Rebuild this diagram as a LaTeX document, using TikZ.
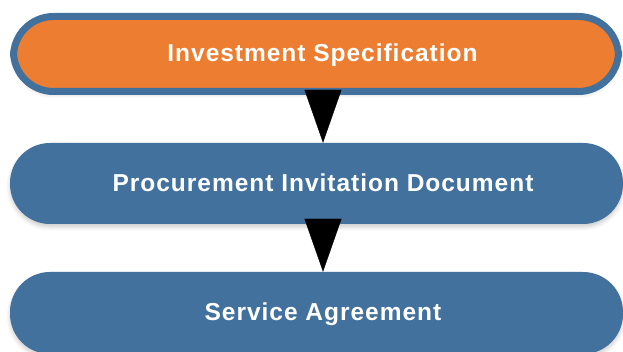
\documentclass[tikz,border=0pt]{standalone}
\usepackage{fontspec}
\setmainfont{Liberation Sans}
\newfontfamily\stagefont[LetterSpace=4]{Liberation Sans}
\usepackage{tikz}
\usetikzlibrary{arrows.meta}
\usetikzlibrary{shadows.blur}
\definecolor{boxblue}{HTML}{41719C}
\definecolor{boxorange}{HTML}{ED7D31}

\begin{document}
\begin{tikzpicture}[
        x=1pt, y=-1pt,
        stage/.style={rectangle, rounded corners=40pt, fill=boxblue, text=white,
            font=\stagefont\fontsize{24.5}{30}\selectfont\bfseries,
            text height=17.5pt, text depth=2pt,
            execute at begin node={\hspace*{13pt}},
            minimum width=613pt, minimum height=81pt,
            blur shadow={shadow xshift=0pt, shadow yshift=-3pt, shadow blur radius=4pt, shadow opacity=20}},
        current/.style={stage, fill=boxorange, draw=boxblue, line width=7pt,
            minimum width=605pt, minimum height=75pt},
        flow/.style={-{Triangle[width=37pt,length=53pt]}, line width=0.4pt, black}
    ]
    \useasboundingbox (0,0) rectangle (623,352);
    
    % Investment Specification
    \node[current] at (316,54) (spec) {Investment Specification};
    
    % Procurement Invitation Document
    \node[stage] at (316.5,183.5) (invite) {Procurement Invitation Document};
    
    % Service Agreement
    \node[stage, minimum height=82pt] at (316.5,313) (agree) {Service Agreement};
    
    % Arrows
    \draw[flow] ([xshift=7pt]spec.south) -- ([xshift=6.5pt]invite.north);
    \draw[flow] ([xshift=6.5pt,yshift=4pt]invite.south) -- ([xshift=6.5pt]agree.north);
    
    \end{tikzpicture}
\end{document}
